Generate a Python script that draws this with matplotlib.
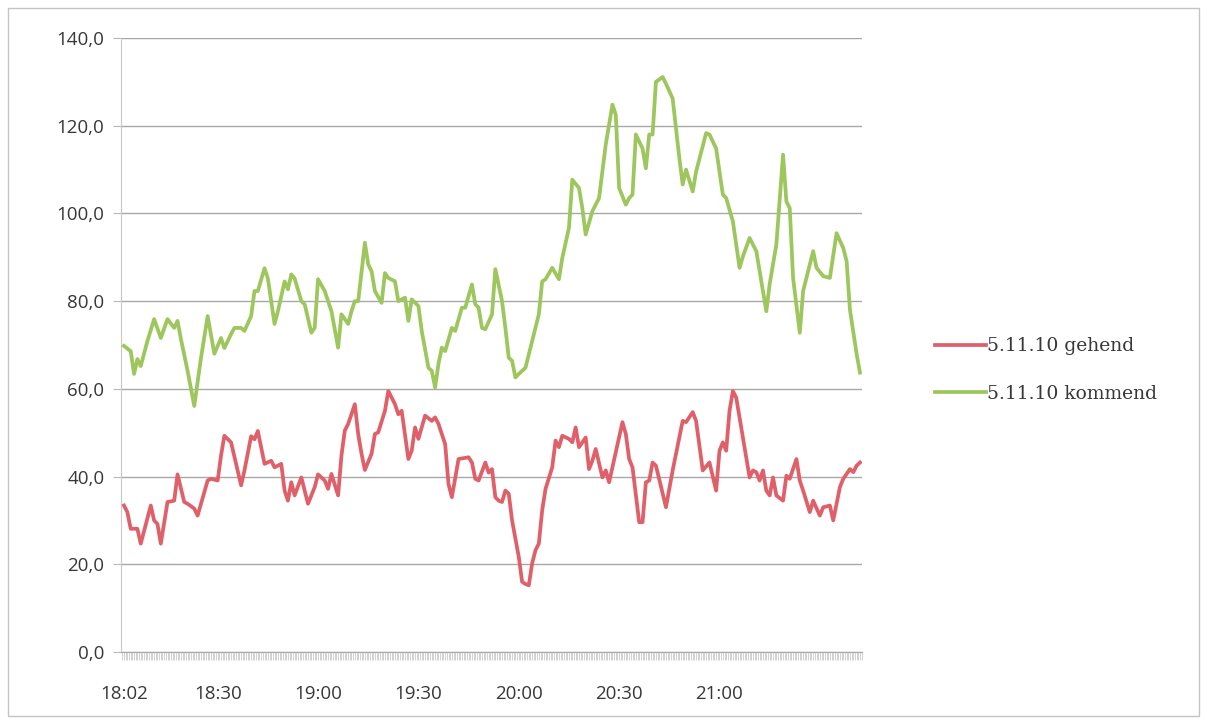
import matplotlib
matplotlib.use("Agg")
import matplotlib.pyplot as plt
from matplotlib.patches import Rectangle
from matplotlib.ticker import FuncFormatter, MultipleLocator

# Messwerte vom 5.11.10, Zeit in Minuten ab 18:02
gehend_min = [0, 1, 2, 4, 5, 8, 9, 10, 11, 13, 15, 16, 18, 19, 21, 22, 25, 26, 28, 29,
              30, 32, 35, 36, 38, 39, 40, 41, 42, 44, 45, 47, 48, 49, 50, 51, 53, 54, 55, 57,
              58, 60, 61, 62, 64, 65, 66, 67, 69, 70, 71, 72, 74, 75, 76, 78, 79, 81, 82, 83,
              85, 86, 87, 88, 90, 92, 93, 94, 96, 97, 98, 100, 103, 104, 105, 106, 108, 109, 110, 111,
              112, 113, 114, 115, 116, 118, 119, 120, 121, 122, 123, 124, 125, 126, 128, 129, 130, 131, 133, 134,
              135, 136, 138, 139, 140, 141, 143, 144, 145, 147, 149, 150, 151, 152, 154, 155, 156, 157, 158, 159,
              162, 164, 167, 168, 170, 171, 173, 175, 177, 178, 179, 180, 181, 182, 183, 185, 187, 188, 189, 190,
              191, 192, 193, 194, 195, 197, 198, 199, 201, 202, 203, 205, 206, 208, 209, 211, 212, 214, 215, 217,
              218, 219, 220]
gehend_val = [33.4, 31.9, 28.1, 28.1, 24.7, 33.4, 30.0, 29.2, 24.7, 34.2, 34.5, 40.5, 34.2, 33.8, 32.7, 31.1, 39.1, 39.5, 39.1, 44.8,
              49.3, 47.8, 38.0, 41.4, 49.2, 48.5, 50.4, 46.7, 42.9, 43.6, 42.1, 42.9, 36.8, 34.5, 38.7, 35.7, 39.8, 36.8, 33.8, 37.6,
              40.5, 39.1, 37.2, 40.6, 35.7, 44.8, 50.5, 52.0, 56.5, 49.7, 45.2, 41.5, 45.2, 49.7, 50.1, 55.0, 59.5, 56.5, 54.2, 55.0,
              44.0, 45.9, 51.2, 48.6, 53.9, 52.7, 53.5, 52.0, 47.4, 38.3, 35.3, 44.0, 44.4, 43.2, 39.5, 39.1, 43.2, 40.9, 41.7, 35.3,
              34.5, 34.2, 36.8, 36.1, 30.0, 21.7, 16.0, 15.5, 15.2, 20.2, 23.2, 24.7, 32.3, 37.2, 42.1, 48.2, 46.7, 49.3, 48.6, 47.8,
              51.2, 46.7, 48.9, 41.7, 43.6, 46.3, 39.8, 41.4, 38.7, 45.5, 52.4, 49.7, 44.0, 42.1, 29.6, 29.6, 38.7, 39.1, 43.2, 42.5,
              33.0, 41.4, 52.7, 52.4, 54.7, 52.7, 41.4, 43.2, 36.8, 45.9, 47.8, 45.9, 55.0, 59.5, 58.0, 48.9, 39.8, 41.4, 41.0, 39.1,
              41.4, 36.8, 35.7, 39.8, 35.7, 34.5, 40.2, 39.5, 44.0, 39.1, 36.8, 31.9, 34.5, 31.1, 33.0, 33.4, 30.0, 37.6, 39.5, 41.7,
              41.0, 42.5, 43.2]

kommend_min = [0, 2, 3, 4, 5, 7, 9, 11, 13, 15, 16, 17, 19, 21, 23, 25, 27, 29, 30, 32,
               33, 35, 36, 38, 39, 40, 42, 43, 45, 46, 48, 49, 50, 51, 53, 54, 56, 57, 58, 60,
               62, 64, 65, 67, 68, 69, 70, 72, 73, 74, 75, 77, 78, 79, 81, 82, 84, 85, 86, 88,
               89, 91, 92, 93, 94, 95, 96, 98, 99, 101, 102, 104, 105, 106, 107, 108, 110, 111, 113, 114,
               115, 116, 117, 118, 120, 122, 124, 125, 126, 128, 130, 131, 133, 134, 136, 137, 138, 140, 142, 144,
               146, 147, 148, 150, 151, 152, 153, 155, 156, 157, 158, 159, 161, 162, 164, 166, 167, 168, 170, 171,
               174, 175, 177, 179, 180, 182, 184, 185, 187, 189, 192, 193, 195, 197, 198, 199, 200, 202, 203, 206,
               207, 209, 211, 213, 215, 216, 217, 219, 220]
kommend_val = [69.8, 68.6, 63.4, 66.8, 65.2, 70.9, 75.9, 71.6, 75.9, 73.9, 75.5, 71.4, 64.1, 56.1, 67.0, 76.6, 68.0, 71.6, 69.3, 72.5,
               73.9, 73.9, 73.2, 76.6, 82.3, 82.3, 87.5, 85.2, 74.8, 77.7, 84.5, 82.7, 86.1, 85.2, 80.0, 79.3, 72.8, 73.9, 85.0, 82.3,
               77.7, 69.4, 77.0, 74.8, 77.7, 80.0, 80.0, 93.3, 88.4, 86.8, 82.3, 79.6, 86.4, 85.3, 84.5, 80.0, 80.8, 75.5, 80.4, 78.9,
               73.2, 64.8, 64.1, 60.3, 65.7, 69.4, 68.6, 73.9, 73.2, 78.5, 78.5, 83.8, 79.3, 78.5, 73.9, 73.6, 77.0, 87.3, 80.0, 73.9,
               67.1, 66.4, 62.6, 63.4, 64.8, 70.9, 77.0, 84.5, 85.0, 87.6, 85.0, 89.8, 96.7, 107.7, 105.8, 101.2, 95.2, 100.5, 103.5, 115.7,
               124.8, 122.5, 105.8, 102.0, 103.5, 104.3, 118.0, 114.8, 110.3, 118.0, 118.0, 130.0, 131.1, 129.6, 126.2, 112.6, 106.6, 110.0, 105.0, 109.5,
               118.3, 118.0, 114.8, 104.3, 103.5, 98.2, 87.6, 90.2, 94.4, 91.4, 77.7, 83.9, 92.9, 113.4, 102.7, 101.2, 85.3, 72.8, 82.3, 91.4,
               87.6, 85.7, 85.3, 95.5, 92.1, 89.1, 78.0, 67.9, 63.7]

tick_min = [0, 28, 58, 88, 118, 148, 178]
tick_lbl = ["18:02", "18:30", "19:00", "19:30", "20:00", "20:30", "21:00"]

RED = "#e0606a"
GREEN = "#9dc65c"
GRID = "#a8a8a8"
TXT = "#383838"

fig = plt.figure(figsize=(12.07, 7.22), dpi=100)
ax = fig.add_axes([121 / 1207, 1 - 652 / 722, (862 - 121) / 1207, (652 - 38) / 722])

ax.plot(gehend_min, gehend_val, color=RED, lw=2.7, solid_joinstyle="round",
        label="5.11.10 gehend", zorder=3)
ax.plot(kommend_min, kommend_val, color=GREEN, lw=2.7, solid_joinstyle="round",
        label="5.11.10 kommend", zorder=3)

ax.set_ylim(0, 140)
ax.set_xlim(-0.9, 220.6)
ax.yaxis.set_major_locator(MultipleLocator(20))
ax.yaxis.set_major_formatter(FuncFormatter(lambda v, _: f"{v:.1f}".replace(".", ",")))
ax.grid(axis="y", color=GRID, lw=1.0)
ax.set_axisbelow(True)

# one tick per sample on the category axis, labels every half hour
ax.set_xticks(tick_min)
ax.set_xticklabels(tick_lbl)
ax.xaxis.set_minor_locator(MultipleLocator(0.5))

for side in ["top", "right"]:
    ax.spines[side].set_visible(False)
ax.spines["left"].set_color("#c8c8c8")
ax.spines["bottom"].set_color(GRID)

ax.tick_params(axis="y", length=6, color="#b8b8b8", labelsize=13.5, labelcolor=TXT, pad=6)
ax.tick_params(axis="x", which="both", length=6, color="#d2d2d2", width=0.7,
               labelsize=13.5, labelcolor=TXT, pad=18)
for lbl in ax.get_xticklabels() + ax.get_yticklabels():
    lbl.set_fontfamily("Open Sans")

fig.legend(loc="center left", bbox_to_anchor=(918 / 1207, 1 - 370 / 722), frameon=False,
           prop={"family": "DejaVu Serif", "size": 13.5}, handlelength=2.7,
           handletextpad=0.1, labelspacing=1.55, labelcolor=TXT)

fig.patches.append(Rectangle((8 / 1207, 6 / 722), 1191 / 1207, 708 / 722,
                             transform=fig.transFigure, fill=False,
                             edgecolor="#c4c4c4", lw=1.0))

fig.savefig("out.png", dpi=100, facecolor="white")
